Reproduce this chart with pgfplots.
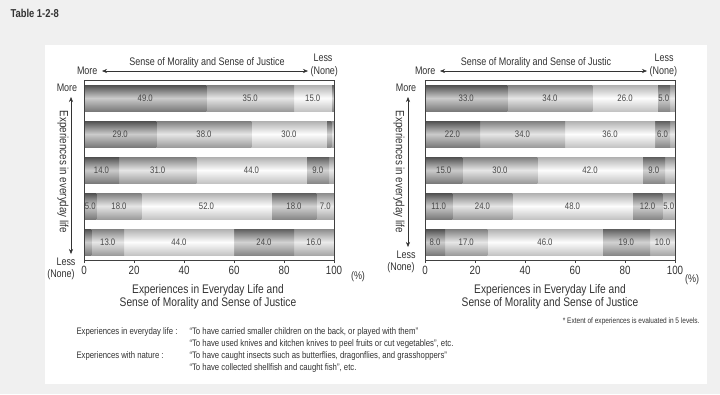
\documentclass[border=0pt]{standalone}
\usepackage{fontspec}
\setmainfont{Liberation Sans}[FakeStretch=0.82]
\usepackage{pgfplots}
\pgfplotsset{compat=1.18}
\usetikzlibrary{arrows.meta}

\newcommand\fs[1]{\fontsize{#1}{#1}\selectfont}

\definecolor{bg}{HTML}{F0F0F0}
\definecolor{txt}{HTML}{333333}
% level shadings (top / middle / bottom)
\definecolor{aT}{HTML}{4F4F4F}\definecolor{aM}{HTML}{CBCBCB}\definecolor{aB}{HTML}{7A7A7A}
\definecolor{bT}{HTML}{7E7E7E}\definecolor{bM}{HTML}{E6E6E6}\definecolor{bB}{HTML}{9C9C9C}
\definecolor{cT}{HTML}{B0B0B0}\definecolor{cM}{HTML}{FDFDFD}\definecolor{cB}{HTML}{C4C4C4}
\definecolor{dT}{HTML}{5E5E5E}\definecolor{dM}{HTML}{D2D2D2}\definecolor{dB}{HTML}{888888}
\definecolor{eT}{HTML}{8C8C8C}\definecolor{eM}{HTML}{EAEAEA}\definecolor{eB}{HTML}{A8A8A8}

\pgfplotsset{
  frameax/.style={
    scale only axis, width=250bp, height=180bp,
    ymin=0.5, ymax=5.5, ytick=\empty,
    xmin=0, xmax=100, xtick={0,20,...,100},
    tick align=outside, xtick pos=bottom,
    major tick length=3bp,
    axis line style={draw=black!75, line width=0.5bp},
    tick style={draw=black!75, line width=0.5bp},
    xticklabel style={font=\fs{12}, text=txt},
    /pgf/number format/assume math mode=true,
  },
  rowax/.style={
    scale only axis, width=250bp, height=36bp,
    hide axis, clip=false,
    xbar stacked, bar width=26bp,
    xmin=0, xmax=100, ymin=0.5, ymax=1.5,
    /pgf/number format/assume math mode=true,
    nodes near coords={\ifdim\pgfplotspointmeta pt<4.5pt\relax\else\pgfmathprintnumber[fixed,fixed zerofill,precision=1]{\pgfplotspointmeta}\fi},
    point meta=explicit symbolic,
    every node near coord/.append style={font=\fs{9.5}, text=black!72, anchor=center},
  },
  lvA/.style={draw=none, top color=aT, bottom color=aB, middle color=aM},
  lvB/.style={draw=none, top color=bT, bottom color=bB, middle color=bM},
  lvC/.style={draw=none, top color=cT, bottom color=cB, middle color=cM},
  lvD/.style={draw=none, top color=dT, bottom color=dB, middle color=dM},
  lvE/.style={draw=none, top color=eT, bottom color=eB, middle color=eM},
}

% one horizontal bar: #1 = left edge (bp), #2 = bottom of its row (bp from top),
% #3..#7 = shares (%) of the five levels, from "More" to "Less (None)"
\newcommand\segrow[7]{%
  \begin{axis}[rowax, at={(#1bp,-#2bp)}, anchor=south west]
  \addplot[lvA] coordinates {(#3,1) [#3]};
  \addplot[lvB] coordinates {(#4,1) [#4]};
  \addplot[lvC] coordinates {(#5,1) [#5]};
  \addplot[lvD] coordinates {(#6,1) [#6]};
  \addplot[lvE] coordinates {(#7,1) [#7]};
  \end{axis}}

\begin{document}
\begin{tikzpicture}[x=1bp, y=-1bp]
\useasboundingbox (0,0) rectangle (720,394);
\fill[bg] (0,0) rectangle (720,394);
\fill[white] (45,45) rectangle (707,384);
\node[anchor=west, font=\bfseries\fs{11.5}, text=txt] at (7,13) {Table 1-2-8};

% ---------- left chart (Experiences in everyday life) ----------
\segrow{84}{116}{49}{35}{15}{1}{0}
\segrow{84}{152}{29}{38}{30}{2}{1}
\segrow{84}{188}{14}{31}{44}{9}{2}
\segrow{84}{224}{5}{18}{52}{18}{7}
\segrow{84}{260}{3}{13}{44}{24}{16}
\begin{axis}[frameax, at={(84bp,-260bp)}, anchor=south west]
\end{axis}

% ---------- right chart ----------
\segrow{425}{116}{33}{34}{26}{5}{2}
\segrow{425}{152}{22}{34}{36}{6}{2}
\segrow{425}{188}{15}{30}{42}{9}{4}
\segrow{425}{224}{11}{24}{48}{12}{5}
\segrow{425}{260}{8}{17}{46}{19}{10}
\begin{axis}[frameax, at={(425bp,-260bp)}, anchor=south west]
\end{axis}

\tikzset{arr/.style={<->, >={Stealth[length=5bp,width=4bp]}, draw=txt, line width=0.5bp}}

% left header
\node[anchor=east, font=\fs{11}, text=txt] at (101,71) {More};
\draw[arr] (102,71) -- (308,71);
\node[font=\fs{11}, text=txt] at (207,63) {Sense of Morality and Sense of Justice};
\node[font=\fs{11}, text=txt] at (323,58) {Less};
\node[anchor=west, font=\fs{11}, text=txt] at (307,72) {(None)};
% left vertical
\node[font=\fs{11}, text=txt] at (67,88) {More};
\draw[arr] (71,97) -- (71,254);
\node[rotate=-90, font=\fs{12}, text=txt] at (63,172) {Experiences in everyday life};
\node[font=\fs{11}, text=txt] at (66,262) {Less};
\node[font=\fs{11}, text=txt] at (61,275) {(None)};
\node[font=\fs{11}, text=txt] at (358,277) {(\%)};
\node[font=\fs{12.5}, text=txt, align=center] at (208,297) {Experiences in Everyday Life and\\[1bp]Sense of Morality and Sense of Justice};

% right header
\node[anchor=east, font=\fs{11}, text=txt] at (439,71) {More};
\draw[arr] (440,71) -- (647,71);
\node[font=\fs{11}, text=txt] at (536,63) {Sense of Morality and Sense of Justic};
\node[font=\fs{11}, text=txt] at (664,58) {Less};
\node[anchor=west, font=\fs{11}, text=txt] at (646,72) {(None)};
% right vertical
\node[font=\fs{11}, text=txt] at (406,88) {More};
\draw[arr] (408,97) -- (408,247);
\node[rotate=-90, font=\fs{12}, text=txt] at (399,172) {Experiences in everyday life};
\node[font=\fs{11}, text=txt] at (406,255) {Less};
\node[font=\fs{11}, text=txt] at (401,268) {(None)};
\node[font=\fs{11}, text=txt] at (692,280) {(\%)};
\node[font=\fs{12.5}, text=txt, align=center] at (550,297) {Experiences in Everyday Life and\\[1bp]Sense of Morality and Sense of Justice};

% footnotes
\node[anchor=east, font=\fs{8}, text=txt] at (703,321) {* Extent of experiences is evaluated in 5 levels.};
\node[anchor=west, font=\fs{9.5}, text=txt] at (73,332) {Experiences in everyday life :};
\node[anchor=west, font=\fs{9.5}, text=txt] at (186,332) {``To have carried smaller children on the back, or played with them''};
\node[anchor=west, font=\fs{9.5}, text=txt] at (186,344) {``To have used knives and kitchen knives to peel fruits or cut vegetables'', etc.};
\node[anchor=west, font=\fs{9.5}, text=txt] at (73,356) {Experiences with nature :};
\node[anchor=west, font=\fs{9.5}, text=txt] at (186,356) {``To have caught insects such as butterflies, dragonflies, and grasshoppers''};
\node[anchor=west, font=\fs{9.5}, text=txt] at (186,368) {``To have collected shellfish and caught fish'', etc.};
\end{tikzpicture}
\end{document}
